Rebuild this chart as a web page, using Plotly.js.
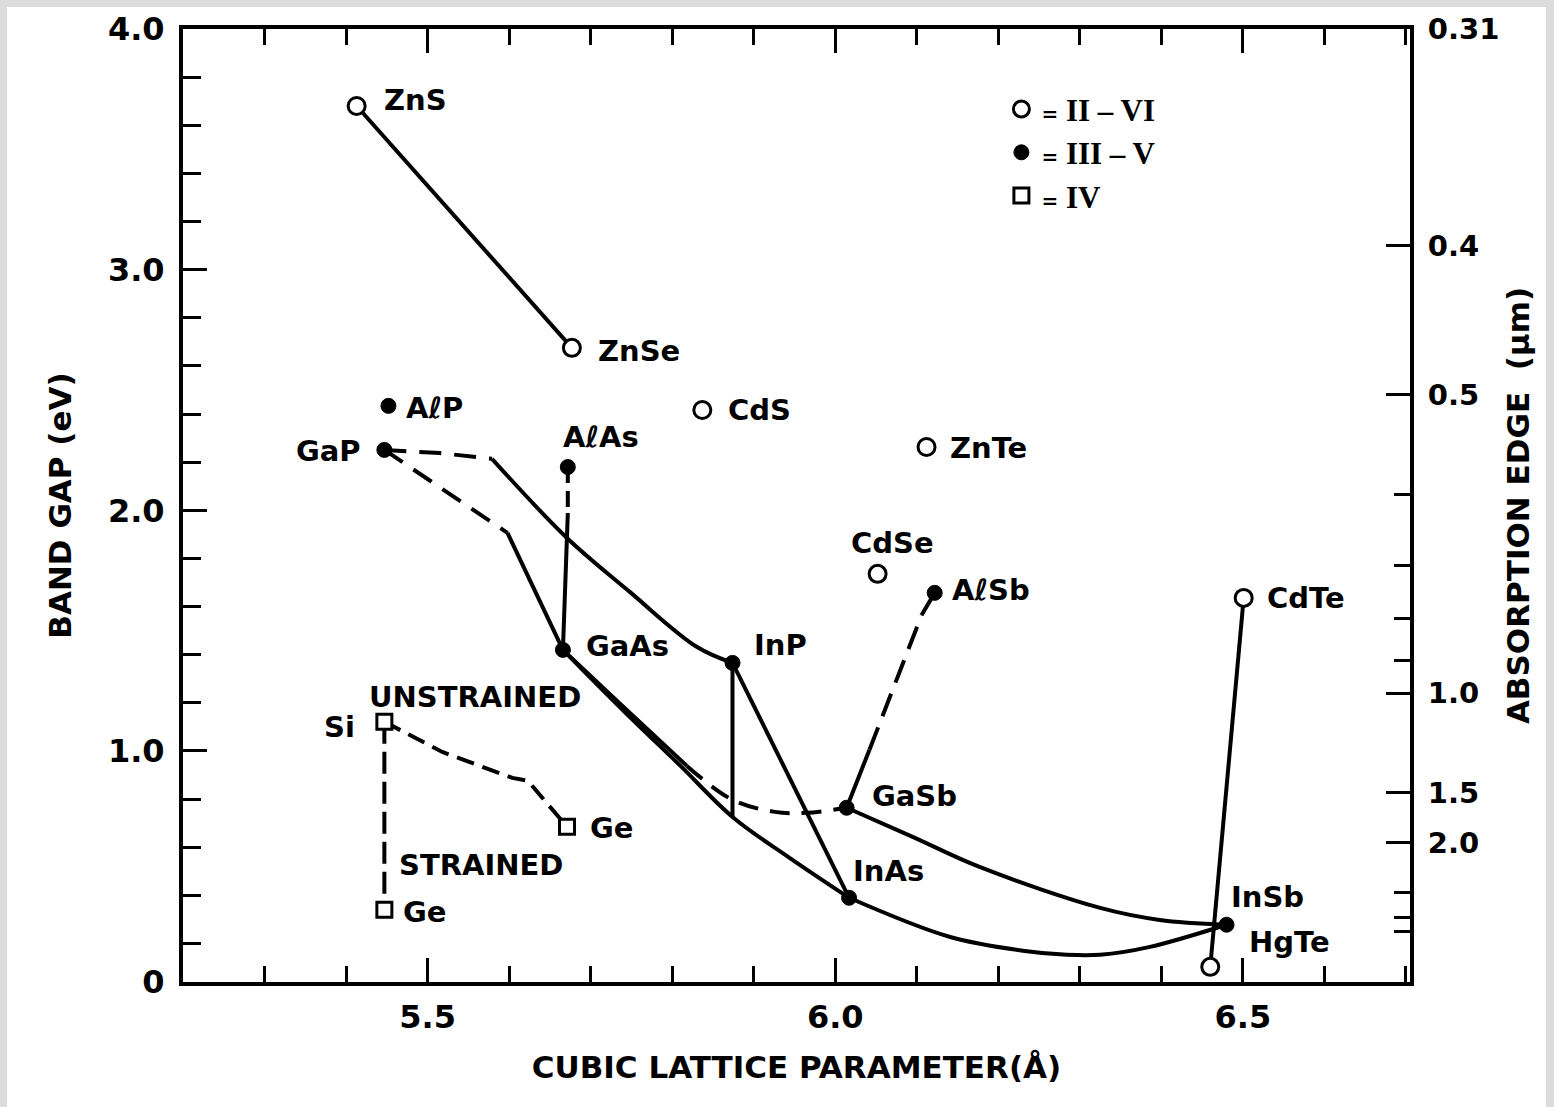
<!DOCTYPE html>
<html><head><meta charset="utf-8">
<script src="https://cdn.plot.ly/plotly-3.0.1.min.js"></script>
<style>
html,body{margin:0;padding:0;background:#dcdcdc;width:1554px;height:1107px;overflow:hidden;}
#chart{position:absolute;left:7px;top:7px;width:1539px;height:1100px;background:#fff;}
</style>
</head><body><div id="chart"></div>
<script>
// ---- compounds (lattice parameter in Å, band gap in eV) ----
const iiviNames = ['ZnS','ZnSe','CdS','ZnTe','CdSe','CdTe','HgTe'];
const iiviX = [5.413, 5.677, 5.837, 6.112, 6.052, 6.501, 6.460];
const iiviY = [3.680, 2.675, 2.417, 2.263, 1.736, 1.636, 0.103];

const iiivNames = ['AℓP','GaP','AℓAs','GaAs','InP','GaSb','InAs','AℓSb','InSb'];
const iiivX = [5.452, 5.447, 5.672, 5.666, 5.874, 6.014, 6.017, 6.122, 6.480];
const iiivY = [2.434, 2.251, 2.180, 1.420, 1.366, 0.764, 0.390, 1.657, 0.278];

const ivNames = ['Si','Ge','Ge'];
const ivX = [5.447, 5.671, 5.447];
const ivY = [1.121, 0.685, 0.340];

// ---- alloy lines ----
const znsZnseX = [5.413, 5.677], znsZnseY = [3.680, 2.675];
const cdteHgteX = [6.501, 6.460], cdteHgteY = [1.636, 0.103];
const gapInpDashX = [5.447, 5.515, 5.579], gapInpDashY = [2.251, 2.238, 2.214];
const gapInpSolidX = [5.579, 5.671, 5.748, 5.830, 5.874], gapInpSolidY = [2.214, 1.885, 1.661, 1.433, 1.366];
const gapGaasDashX = [5.447, 5.598], gapGaasDashY = [2.251, 1.906];
const gapGaasSolidX = [5.598, 5.629, 5.666], gapGaasSolidY = [1.906, 1.682, 1.420];
const alasGaasDashX = [5.672, 5.672], alasGaasDashY = [2.180, 1.989];
const alasGaasSolidX = [5.672, 5.666], alasGaasSolidY = [1.989, 1.420];
const gaasInasX = [5.666, 5.739, 5.809, 5.874, 5.944, 6.017], gaasInasY = [1.420, 1.171, 0.942, 0.726, 0.556, 0.390];
const gaasGasbSolidX = [5.666, 5.739, 5.818], gaasGasbSolidY = [1.420, 1.187, 0.938];
const gaasGasbDashX = [5.818, 5.874, 5.926, 5.965, 6.014], gaasGasbDashY = [0.938, 0.797, 0.747, 0.743, 0.764];
const inpInasX = [5.874, 6.017], inpInasY = [1.366, 0.390];
const inpVertX = [5.874, 5.874], inpVertY = [1.366, 0.726];
const gasbAlsbSolidX = [6.014, 6.042], gasbAlsbSolidY = [0.764, 1.005];
const gasbAlsbDashX = [6.042, 6.106], gasbAlsbDashY = [1.005, 1.565];
const gasbAlsbTipX = [6.106, 6.122], gasbAlsbTipY = [1.565, 1.657];
const gasbInsbX = [6.014, 6.095, 6.177, 6.325, 6.398, 6.480], gasbInsbY = [0.764, 0.643, 0.518, 0.348, 0.298, 0.278];
const inasInsbX = [6.017, 6.140, 6.230, 6.284, 6.325, 6.386, 6.480], inasInsbY = [0.390, 0.228, 0.170, 0.153, 0.153, 0.186, 0.278];
const siGeX = [5.447, 5.518, 5.604, 5.623, 5.671], siGeY = [1.121, 0.996, 0.888, 0.876, 0.685];
const siGeStrainX = [5.447, 5.447], siGeStrainY = [1.121, 0.340];

// ---- axis ticks ----
const gapTickVals = [0.04, 1, 2, 3, 4];
const gapTickText = ['0', '1.0', '2.0', '3.0', '4.0'];
const xTickVals = [5.5, 6.0, 6.5];
const xTickText = ['5.5', '6.0', '6.5'];
const edgeMajor = [0.31, 0.4, 0.5, 1.0, 1.5, 2.0];
const edgeMajorText = ['0.31', '0.4', '0.5', '1.0', '1.5', '2.0'];
const edgeMinor = [0.6, 0.7, 0.8, 0.9, 3, 4, 5];
const hc = 1.24; // eV·µm

// ---- styles ----
const FONT = 'DejaVu Sans';
const LW = 4;
const solid = (x, y, shape) => ({x, y, type:'scatter', mode:'lines', line:{color:'#000', width:LW, shape:shape||'linear', smoothing:1}, showlegend:false, hoverinfo:'skip'});
const dashed = (x, y, dash, shape) => ({x, y, type:'scatter', mode:'lines', line:{color:'#000', width:LW, dash:dash, shape:shape||'linear', smoothing:1}, showlegend:false, hoverinfo:'skip'});

const traces = [
  solid(znsZnseX, znsZnseY),
  solid(cdteHgteX, cdteHgteY),
  dashed(gapInpDashX, gapInpDashY, '22px,13px'),
  solid(gapInpSolidX, gapInpSolidY, 'spline'),
  dashed(gapGaasDashX, gapGaasDashY, '22px,13px'),
  solid(gapGaasSolidX, gapGaasSolidY),
  dashed(alasGaasDashX, alasGaasDashY, '16px,8px'),
  solid(alasGaasSolidX, alasGaasSolidY),
  solid(gaasInasX, gaasInasY, 'spline'),
  solid(gaasGasbSolidX, gaasGasbSolidY, 'spline'),
  dashed(gaasGasbDashX, gaasGasbDashY, '20px,12px', 'spline'),
  solid(inpInasX, inpInasY),
  solid(inpVertX, inpVertY),
  solid(gasbAlsbSolidX, gasbAlsbSolidY),
  dashed(gasbAlsbDashX, gasbAlsbDashY, '24px,12px'),
  solid(gasbAlsbTipX, gasbAlsbTipY),
  solid(gasbInsbX, gasbInsbY, 'spline'),
  solid(inasInsbX, inasInsbY, 'spline'),
  dashed(siGeX, siGeY, '18px,9px'),
  dashed(siGeStrainX, siGeStrainY, '22px,8px'),
  {x: iiviX, y: iiviY, type:'scatter', mode:'markers', name:"<span style='font-family:DejaVu Sans;font-size:20px'>=</span> II – VI",
   marker:{symbol:'circle', size:17, color:'#fff', line:{color:'#000', width:3}}, hoverinfo:'skip'},
  {x: iiivX, y: iiivY, type:'scatter', mode:'markers', name:"<span style='font-family:DejaVu Sans;font-size:20px'>=</span> III – V",
   marker:{symbol:'circle', size:15, color:'#000', line:{color:'#000', width:1}}, hoverinfo:'skip'},
  {x: ivX, y: ivY, type:'scatter', mode:'markers', name:"<span style='font-family:DejaVu Sans;font-size:20px'>=</span> IV",
   marker:{symbol:'square', size:15, color:'#fff', line:{color:'#000', width:3}}, hoverinfo:'skip'},
  {x: iiviX, y: iiviY, yaxis:'y2', type:'scatter', mode:'markers', marker:{opacity:0}, showlegend:false, hoverinfo:'skip'}
];

// label offsets (px) relative to the point: [xshift, yshift, xanchor]
const iiviOff = [[25,6,'left'],[24,-3,'left'],[24,0,'left'],[21,-1,'left'],[15,31,'center'],[21,0,'left'],[37,25,'left']];
const iiivOff = [[16,-2,'left'],[-21,-1,'right'],[-7,30,'left'],[21,4,'left'],[19,18,'left'],[23,12,'left'],[2,27,'left'],[15,3,'left'],[2,28,'left']];
const ivOff = [[-27,-5,'right'],[21,-1,'left'],[17,-2,'left']];

const labelFont = {family: FONT, size: 29, color:'#000', weight:'bold'};
const ann = [];
function addLabels(names, xs, ys, offs) {
  names.forEach((n, i) => ann.push({x: xs[i], y: ys[i], text: n, showarrow:false,
    xanchor: offs[i][2], yanchor:'middle', xshift: offs[i][0], yshift: offs[i][1], font: labelFont}));
}
addLabels(iiviNames, iiviX, iiviY, iiviOff);
addLabels(iiivNames, iiivX, iiivY, iiivOff);
addLabels(ivNames, ivX, ivY, ivOff);
ann.push({x: ivX[0], y: ivY[0], text:'UNSTRAINED', showarrow:false, xanchor:'left', yanchor:'middle', xshift:-17, yshift:25, font:labelFont});
ann.push({x: ivX[2], y: ivY[2], text:'STRAINED', showarrow:false, xanchor:'left', yanchor:'middle', xshift:13, yshift:45, font:labelFont});

const tickFont = {family: FONT, size: 32, color:'#000', weight:'bold'};
const titleFont = {family: FONT, size: 31, color:'#000', weight:'bold'};
const yRange = [0.04, 4.0];

const layout = {
  width: 1539, height: 1100,
  margin: {l:176, r:136, t:22, b:125},
  paper_bgcolor:'#fff', plot_bgcolor:'#fff',
  showlegend: true,
  legend: {x:0.667, y:0.944, xanchor:'left', yanchor:'top', bgcolor:'rgba(0,0,0,0)', borderwidth:0,
           font:{family:'Liberation Serif', size:31, color:'#000', weight:'bold'}, tracegroupgap:0, itemclick:false},
  xaxis: {range:[5.2, 6.705], autorange:false, showgrid:false, zeroline:false,
          showline:true, linewidth:4, linecolor:'#000', mirror:'ticks',
          tickmode:'array', tickvals:xTickVals, ticktext:xTickText,
          ticks:'inside', ticklen:24, tickwidth:3, tickcolor:'#000', ticklabelstandoff:4,
          minor:{dtick:0.1, tick0:5.5, ticks:'inside', ticklen:16, tickwidth:3, tickcolor:'#000', showgrid:false},
          tickfont: tickFont,
          title:{text:'CUBIC LATTICE PARAMETER(Å)', font:titleFont, standoff:22}},
  yaxis: {range:yRange, autorange:false, showgrid:false, zeroline:false,
          showline:true, linewidth:4, linecolor:'#000', mirror:false,
          tickmode:'array', tickvals:gapTickVals, ticktext:gapTickText,
          ticks:'inside', ticklen:24, tickwidth:3, tickcolor:'#000', ticklabelstandoff:8,
          minor:{dtick:0.2, tick0:0, ticks:'inside', ticklen:18, tickwidth:3, tickcolor:'#000', showgrid:false},
          tickfont: tickFont,
          title:{text:'BAND GAP (eV)', font:titleFont, standoff:28}},
  yaxis2: {overlaying:'y', side:'right', range:yRange, autorange:false, showgrid:false, zeroline:false,
          showline:true, linewidth:4, linecolor:'#000',
          tickmode:'array', tickvals: edgeMajor.map(l => hc / l), ticktext: edgeMajorText,
          ticks:'inside', ticklen:24, tickwidth:3, tickcolor:'#000', ticklabelstandoff:8,
          minor:{tickmode:'array', tickvals: edgeMinor.map(l => hc / l), ticks:'inside', ticklen:16, tickwidth:3, tickcolor:'#000', showgrid:false},
          tickfont: {family: FONT, size: 29, color:'#000', weight:'bold'},
          title:{text:'ABSORPTION EDGE  (µm)', font:titleFont, standoff:10}},
  annotations: ann
};

Plotly.newPlot('chart', traces, layout, {staticPlot:true, displayModeBar:false});
</script></body></html>
